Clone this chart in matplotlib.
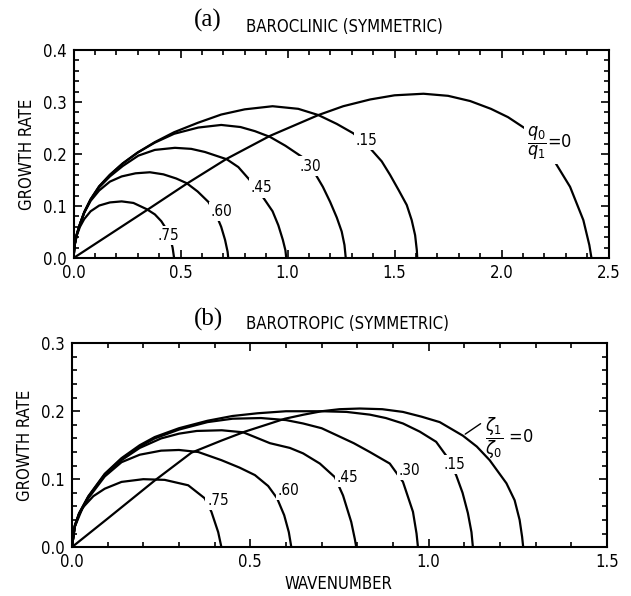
import matplotlib
matplotlib.use('Agg')
import matplotlib.pyplot as plt
from matplotlib.ticker import MultipleLocator, FormatStrFormatter
from matplotlib import font_manager

# look for a narrow sans for the lettering
narrow = None
for f in font_manager.fontManager.ttflist:
    if f.style == 'normal' and f.weight in (400, 'normal', 'regular'):
        if 'Narrow' in f.name or f.stretch in ('condensed', 'semi-condensed'):
            narrow = f
            break
if narrow is not None:
    plt.rcParams['font.family'] = [narrow.name, 'DejaVu Sans']
    plt.rcParams['font.stretch'] = narrow.stretch
    title_size = 12
else:
    plt.rcParams['font.family'] = ['Liberation Sans', 'DejaVu Sans']
    title_size = 11
plt.rcParams['mathtext.fontset'] = 'dejavusans'

# ---- (a) baroclinic, growth rate vs wavenumber for q0/q1 ----
a_labels = ['0', '.15', '.30', '.45', '.60', '.75']
a_k_0 = [0, 0.342, 0.529, 0.716, 0.918, 1.144, 1.26, 1.386, 1.5, 1.635, 1.75, 1.853, 1.95, 2.03, 2.133, 2.234, 2.32, 2.382, 2.41, 2.42]
a_g_0 = [0, 0.092, 0.143, 0.191, 0.235, 0.275, 0.292, 0.305, 0.313, 0.316, 0.312, 0.302, 0.287, 0.271, 0.243, 0.195, 0.137, 0.073, 0.025, 0]
a_k_15 = [0, 0.005, 0.015, 0.03, 0.05, 0.08, 0.12, 0.17, 0.23, 0.3, 0.38, 0.47, 0.58, 0.69, 0.8, 0.93, 1.05, 1.144, 1.23, 1.307, 1.386, 1.44, 1.479, 1.52, 1.557, 1.58, 1.596, 1.604, 1.606]
a_g_15 = [0, 0.025, 0.045, 0.065, 0.088, 0.113, 0.138, 0.16, 0.182, 0.203, 0.223, 0.242, 0.26, 0.276, 0.286, 0.292, 0.287, 0.275, 0.258, 0.24, 0.211, 0.186, 0.16, 0.13, 0.102, 0.073, 0.044, 0.015, 0]
a_k_30 = [0, 0.005, 0.015, 0.03, 0.05, 0.08, 0.12, 0.17, 0.23, 0.3, 0.38, 0.47, 0.583, 0.69, 0.78, 0.848, 0.918, 0.99, 1.066, 1.128, 1.165, 1.199, 1.23, 1.253, 1.266, 1.272]
a_g_30 = [0, 0.025, 0.045, 0.065, 0.088, 0.113, 0.138, 0.16, 0.182, 0.203, 0.222, 0.239, 0.251, 0.256, 0.252, 0.244, 0.233, 0.216, 0.195, 0.163, 0.137, 0.108, 0.078, 0.051, 0.025, 0]
a_k_45 = [0, 0.005, 0.015, 0.03, 0.05, 0.08, 0.12, 0.17, 0.23, 0.303, 0.38, 0.474, 0.55, 0.614, 0.716, 0.77, 0.817, 0.855, 0.887, 0.93, 0.957, 0.978, 0.99, 0.994]
a_g_45 = [0, 0.025, 0.045, 0.065, 0.088, 0.112, 0.136, 0.157, 0.177, 0.197, 0.208, 0.212, 0.21, 0.204, 0.19, 0.175, 0.153, 0.135, 0.116, 0.09, 0.063, 0.035, 0.015, 0]
a_k_60 = [0, 0.005, 0.015, 0.03, 0.05, 0.08, 0.12, 0.17, 0.225, 0.29, 0.357, 0.42, 0.48, 0.529, 0.58, 0.63, 0.665, 0.69, 0.708, 0.72, 0.723]
a_g_60 = [0, 0.025, 0.045, 0.065, 0.087, 0.11, 0.13, 0.147, 0.157, 0.163, 0.165, 0.161, 0.153, 0.144, 0.128, 0.108, 0.085, 0.06, 0.035, 0.012, 0]
a_k_75 = [0, 0.005, 0.015, 0.03, 0.05, 0.08, 0.12, 0.17, 0.225, 0.28, 0.342, 0.38, 0.41, 0.435, 0.452, 0.463, 0.47]
a_g_75 = [0, 0.024, 0.043, 0.06, 0.075, 0.09, 0.101, 0.107, 0.109, 0.106, 0.094, 0.084, 0.071, 0.055, 0.038, 0.02, 0]
# where the curve labels sit
a_lab_k = [2.222, 1.37, 1.108, 0.879, 0.692, 0.443]
a_lab_g = [0.221, 0.227, 0.177, 0.135, 0.089, 0.044]

# ---- (b) barotropic, for zeta1/zeta0 ----
b_labels = ['0', '.15', '.30', '.45', '.60', '.75']
b_k_0 = [0, 0.1, 0.232, 0.335, 0.42, 0.485, 0.55, 0.597, 0.65, 0.7, 0.75, 0.807, 0.87, 0.928, 0.98, 1.031, 1.096, 1.135, 1.171, 1.218, 1.241, 1.255, 1.262, 1.265]
b_g_0 = [0, 0.042, 0.098, 0.139, 0.157, 0.17, 0.181, 0.189, 0.195, 0.2, 0.203, 0.204, 0.203, 0.199, 0.192, 0.184, 0.164, 0.148, 0.128, 0.094, 0.069, 0.04, 0.015, 0]
b_k_15 = [0, 0.008, 0.02, 0.046, 0.092, 0.139, 0.19, 0.232, 0.3, 0.38, 0.45, 0.52, 0.6, 0.7, 0.77, 0.835, 0.88, 0.928, 0.975, 1.021, 1.05, 1.077, 1.095, 1.11, 1.12, 1.124]
b_g_15 = [0, 0.032, 0.05, 0.075, 0.108, 0.131, 0.15, 0.162, 0.175, 0.186, 0.193, 0.197, 0.2, 0.2, 0.199, 0.195, 0.19, 0.182, 0.17, 0.155, 0.134, 0.106, 0.08, 0.05, 0.022, 0]
b_k_30 = [0, 0.008, 0.02, 0.046, 0.092, 0.139, 0.19, 0.232, 0.3, 0.38, 0.45, 0.53, 0.6, 0.648, 0.7, 0.741, 0.79, 0.835, 0.891, 0.928, 0.956, 0.966, 0.97]
b_g_30 = [0, 0.031, 0.049, 0.074, 0.107, 0.13, 0.148, 0.16, 0.173, 0.184, 0.189, 0.19, 0.187, 0.182, 0.175, 0.165, 0.153, 0.14, 0.123, 0.096, 0.052, 0.02, 0]
b_k_45 = [0, 0.008, 0.02, 0.046, 0.092, 0.139, 0.19, 0.25, 0.3, 0.35, 0.42, 0.48, 0.513, 0.555, 0.611, 0.648, 0.695, 0.737, 0.76, 0.783, 0.793, 0.797]
b_g_45 = [0, 0.031, 0.049, 0.074, 0.106, 0.128, 0.146, 0.16, 0.167, 0.171, 0.172, 0.169, 0.162, 0.153, 0.146, 0.138, 0.123, 0.103, 0.076, 0.037, 0.012, 0]
b_k_60 = [0, 0.008, 0.02, 0.046, 0.092, 0.139, 0.19, 0.25, 0.3, 0.354, 0.419, 0.47, 0.513, 0.55, 0.575, 0.595, 0.608, 0.615]
b_g_60 = [0, 0.03, 0.048, 0.072, 0.104, 0.125, 0.136, 0.142, 0.143, 0.14, 0.128, 0.117, 0.106, 0.09, 0.072, 0.047, 0.022, 0]
b_k_75 = [0, 0.008, 0.03, 0.06, 0.092, 0.139, 0.2, 0.26, 0.326, 0.372, 0.391, 0.41, 0.419]
b_g_75 = [0, 0.03, 0.058, 0.075, 0.086, 0.096, 0.1, 0.099, 0.091, 0.072, 0.052, 0.022, 0]
b_lab_k = [1.227, 1.073, 0.947, 0.773, 0.608, 0.41]
b_lab_g = [0.160, 0.122, 0.113, 0.103, 0.084, 0.069]


fig = plt.figure(figsize=(6.31, 5.96), dpi=100)
ax1 = fig.add_axes([0.1165, 0.567, 0.848, 0.349])
ax2 = fig.add_axes([0.114, 0.082, 0.848, 0.342])

lw = 1.6
for k, g in [(a_k_0, a_g_0), (a_k_15, a_g_15), (a_k_30, a_g_30),
             (a_k_45, a_g_45), (a_k_60, a_g_60), (a_k_75, a_g_75)]:
    ax1.plot(k, g, color='black', lw=lw, solid_capstyle='butt')
for k, g in [(b_k_0, b_g_0), (b_k_15, b_g_15), (b_k_30, b_g_30),
             (b_k_45, b_g_45), (b_k_60, b_g_60), (b_k_75, b_g_75)]:
    ax2.plot(k, g, color='black', lw=lw, solid_capstyle='butt')

box = dict(facecolor='white', edgecolor='none', pad=1.5)
for i in range(1, 6):
    ax1.text(a_lab_k[i], a_lab_g[i], a_labels[i], ha='center', va='center',
             fontsize=11, bbox=box, zorder=5)
    ax2.text(b_lab_k[i], b_lab_g[i], b_labels[i], ha='center', va='center',
             fontsize=11, bbox=box, zorder=5)
ax1.text(a_lab_k[0], a_lab_g[0], r'$\dfrac{q_0}{q_1}$=' + a_labels[0], ha='center', va='center',
         fontsize=13, bbox=box, zorder=5)
ax2.text(b_lab_k[0], b_lab_g[0], r'$\dfrac{\zeta_1}{\zeta_0}$ =' + b_labels[0], ha='center', va='center',
         fontsize=13, zorder=5)
ax2.annotate('', xy=(1.096, 0.164), xytext=(1.152, 0.184),
             arrowprops=dict(arrowstyle='-', lw=1.0, color='black'))

# axes, ticks
for ax, xmax, ymax in [(ax1, 2.5, 0.4), (ax2, 1.5, 0.3)]:
    ax.set_xlim(0, xmax)
    ax.set_ylim(0, ymax)
    ax.xaxis.set_major_locator(MultipleLocator(0.5))
    ax.xaxis.set_minor_locator(MultipleLocator(0.1))
    ax.yaxis.set_major_locator(MultipleLocator(0.1))
    ax.yaxis.set_minor_locator(MultipleLocator(0.02))
    ax.xaxis.set_major_formatter(FormatStrFormatter('%.1f'))
    ax.yaxis.set_major_formatter(FormatStrFormatter('%.1f'))
    ax.tick_params(which='both', direction='in', top=True, right=True, width=1.2)
    ax.tick_params(which='major', length=6, labelsize=12)
    ax.tick_params(axis='x', which='major', pad=4)
    ax.tick_params(axis='y', which='major', pad=5)
    ax.tick_params(which='minor', length=3.5)
    for s in ax.spines.values():
        s.set_linewidth(1.5)
    ax.set_ylabel('GROWTH RATE', fontsize=title_size, labelpad=5)

fig.text(0.537, 0.02, 'WAVENUMBER', fontsize=title_size, ha='center', va='center')

fig.text(0.33, 0.965, '(a)', family=['Liberation Serif', 'DejaVu Serif'], fontsize=18, ha='center', va='center')
fig.text(0.39, 0.955, 'BAROCLINIC (SYMMETRIC)', fontsize=title_size, ha='left', va='center')
fig.text(0.33, 0.464, '(b)', family=['Liberation Serif', 'DejaVu Serif'], fontsize=18, ha='center', va='center')
fig.text(0.39, 0.456, 'BAROTROPIC (SYMMETRIC)', fontsize=title_size, ha='left', va='center')

fig.savefig('out.png', dpi=100)
